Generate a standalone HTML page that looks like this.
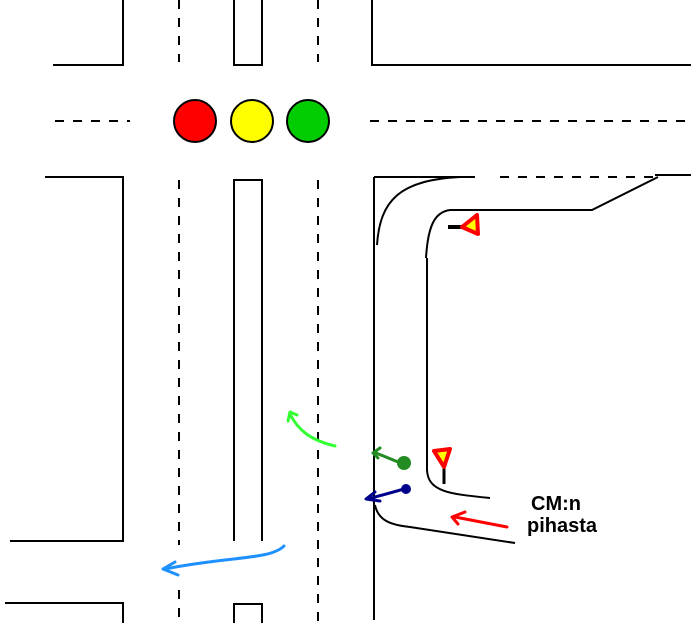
<!DOCTYPE html>
<html><head><style>body{margin:0;background:#fff}svg{display:block}</style></head><body>
<svg width="691" height="623" viewBox="0 0 691 623" xmlns="http://www.w3.org/2000/svg">
<g fill="none" stroke="#000" stroke-width="2">
<polyline points="53,65 123,65 123,0"/>
<polyline points="234,0 234,65 262,65 262,0"/>
<polyline points="372,0 372,65 691,65"/>
<polyline points="45,177 123,177 123,541 10,541"/>
<polyline points="234,541 234,180 262,180 262,541"/>
<polyline points="5,603 123,603 123,623"/>
<polyline points="234,623 234,604 262,604 262,623"/>
<line x1="374" y1="177" x2="374" y2="620"/>
<line x1="374" y1="177" x2="475" y2="177"/>
<line x1="655" y1="175" x2="691" y2="175"/>
<path d="M377,245 C380,200 400,180 460,177"/>
<path d="M450,210 L592,210 L658,177"/>
<path d="M426,258 C428,225 435,212 450,210"/>
<path d="M427,258 L427,470 C428,492 450,494 490,498"/>
<path d="M375,505 C378,520 390,525 410,527 L515,543"/>
</g>
<g stroke="#000" stroke-width="2" stroke-dasharray="9,9">
<line x1="179" y1="0" x2="179" y2="62"/>
<line x1="318" y1="0" x2="318" y2="62"/>
<line x1="179" y1="180" x2="179" y2="545"/>
<line x1="179" y1="590" x2="179" y2="623"/>
<line x1="318" y1="180" x2="318" y2="623"/>
<line x1="55" y1="121" x2="130" y2="121"/>
<line x1="370" y1="121" x2="691" y2="121"/>
<line x1="500" y1="177" x2="655" y2="177"/>
</g>
<g stroke="#000" stroke-width="2">
<circle cx="195" cy="121" r="21" fill="#f00"/>
<circle cx="252" cy="121" r="21" fill="#ff0"/>
<circle cx="308" cy="121" r="21" fill="#0c0"/>
</g>
<line x1="448" y1="227" x2="462" y2="227" stroke="#000" stroke-width="4"/>
<polygon points="462,227 477,215 478,234" fill="#ff0" stroke="#f00" stroke-width="4" stroke-linejoin="round"/>
<line x1="444" y1="465" x2="444" y2="484" stroke="#000" stroke-width="3"/>
<polygon points="434,451 450,449 444,467" fill="#ff0" stroke="#f00" stroke-width="4" stroke-linejoin="round"/>
<g fill="none" stroke-width="3" stroke-linecap="round" stroke-linejoin="round">
<path d="M507,527 L455,517 M465,512 L452,517 L458,524" stroke="#f00"/>
<path d="M404,489 L368,499 M375,492 L366,499 L380,501" stroke="#00008b"/>
<path d="M403,464 L376,453 M380,448 L373,453 L378,458" stroke="#228b22"/>
<path d="M335,446 C310,440 298,430 290,414 M288,421 L290,412 L297,415" stroke="#3f3"/>
<path d="M284,546 C270,560 230,556 165,569 M175,562 L163,569 L178,575" stroke="#1e90ff"/>
</g>
<circle cx="404" cy="463" r="7" fill="#228b22"/>
<circle cx="406" cy="489" r="5" fill="#00008b"/>
<text x="531" y="510" font-family="Liberation Sans, sans-serif" font-size="20" font-weight="bold">CM:n</text>
<text x="527" y="532" font-family="Liberation Sans, sans-serif" font-size="20" font-weight="bold">pihasta</text>
</svg>
</body></html>
